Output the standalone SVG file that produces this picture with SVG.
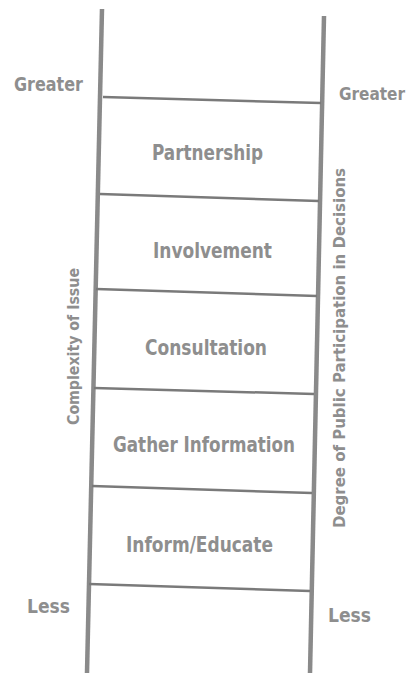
<svg xmlns="http://www.w3.org/2000/svg" width="413" height="673" viewBox="0 0 413 673">
<style>
.t{font-family:"DejaVu Sans Condensed","DejaVu Sans","Liberation Sans",sans-serif;font-weight:bold;fill:#8e8e8e;}
.s{font-size:21px;}
.g{font-size:20px;}
.v{font-size:16px;}
.rail{stroke:#8a8a8a;stroke-width:4.5;fill:none;stroke-linecap:butt;}
.rung{stroke:#7a7a7a;stroke-width:2.5;fill:none;}
</style>
<rect width="413" height="673" fill="#ffffff"/>
<g id="connectors">
<line class="rail" x1="102" y1="9" x2="87" y2="673"/>
<line class="rail" x1="324" y1="16" x2="310" y2="673"/>
<line class="rung" x1="103" y1="97" x2="321" y2="103"/>
<line class="rung" x1="100" y1="194" x2="319" y2="201"/>
<line class="rung" x1="96" y1="289" x2="317" y2="296"/>
<line class="rung" x1="94" y1="388" x2="314" y2="394"/>
<line class="rung" x1="92" y1="486" x2="312" y2="493"/>
<line class="rung" x1="89" y1="584" x2="310" y2="591"/>
</g>
<g id="greater-left"><text class="t g" x="14" y="91" textLength="69" lengthAdjust="spacingAndGlyphs">Greater</text></g>
<g id="greater-right"><text class="t" style="font-size:18.5px" x="339" y="100" textLength="66" lengthAdjust="spacingAndGlyphs">Greater</text></g>
<g id="partnership"><text class="t s" x="152" y="160" textLength="111" lengthAdjust="spacingAndGlyphs">Partnership</text></g>
<g id="involvement"><text class="t s" x="153" y="258" textLength="119" lengthAdjust="spacingAndGlyphs">Involvement</text></g>
<g id="consultation"><text class="t s" x="145" y="355" textLength="122" lengthAdjust="spacingAndGlyphs">Consultation</text></g>
<g id="gather-information"><text class="t s" x="113" y="452" textLength="182" lengthAdjust="spacingAndGlyphs">Gather Information</text></g>
<g id="inform-educate"><text class="t s" x="126" y="552" textLength="147" lengthAdjust="spacingAndGlyphs">Inform/Educate</text></g>
<g id="less-left"><text class="t g" x="27" y="613" textLength="43" lengthAdjust="spacingAndGlyphs">Less</text></g>
<g id="less-right"><text class="t g" x="328" y="622" textLength="43" lengthAdjust="spacingAndGlyphs">Less</text></g>
<g id="complexity"><text class="t v" transform="translate(79,425) rotate(-90)" x="0" y="0" textLength="157" lengthAdjust="spacingAndGlyphs">Complexity of Issue</text></g>
<g id="degree"><text class="t v" transform="translate(345,528) rotate(-90)" x="0" y="0" textLength="360" lengthAdjust="spacingAndGlyphs">Degree of Public Participation in Decisions</text></g>
</svg>
